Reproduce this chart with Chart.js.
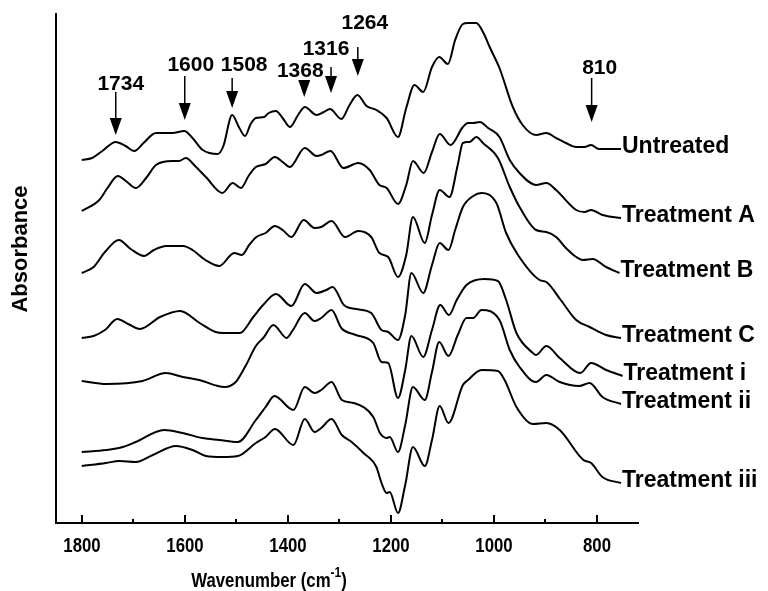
<!DOCTYPE html>
<html>
<head>
<meta charset="utf-8">
<script src="https://cdn.jsdelivr.net/npm/chart.js@4.4.1/dist/chart.umd.min.js"></script>
<style>
  html, body { margin: 0; padding: 0; background: #fff; }
  #wrap { width: 768px; height: 591px; position: relative; }
</style>
</head>
<body>
<div id="wrap"><canvas id="ftir"></canvas></div>
<script>
// [wavenumber, absorbance] pairs, absorbance in stacked arbitrary units
const untreated = [[1800,363],[1780,365],[1760,372],[1734,381],[1715,377],[1698,372],[1680,380],[1656,390],[1624,390],[1601,392],[1585,385],[1565,373],[1536,369],[1525,377],[1508,408],[1494,395],[1483,387],[1472,399],[1462,405],[1446,406],[1437,410],[1423,412],[1410,405],[1396,396],[1380,408],[1367,416],[1344,408],[1330,411],[1318,414],[1296,404],[1280,418],[1265,428],[1247,417],[1228,413],[1208,405],[1186,386],[1170,415],[1154,438],[1137,431],[1120,456],[1106,466],[1089,459],[1075,483],[1060,499],[1050,500],[1034,500],[1020,490],[1008,476],[989,455],[963,416],[944,398],[918,388],[898,390],[879,385],[860,380],[840,376],[824,376],[811,378],[796,374],[770,374],[753,374]];
const treatA = [[1800,312],[1766,323],[1750,335],[1730,347],[1712,341],[1695,335],[1675,345],[1656,358],[1624,362],[1611,362],[1598,365],[1580,357],[1559,346],[1527,330],[1507,340],[1491,335],[1475,348],[1462,356],[1443,359],[1425,366],[1410,361],[1396,356],[1367,375],[1344,367],[1335,368],[1317,372],[1292,355],[1263,360],[1241,353],[1222,338],[1208,335],[1186,319],[1170,338],[1157,362],[1136,350],[1120,371],[1105,389],[1084,378],[1060,396],[1050,400],[1040,400],[1027,401],[1011,395],[989,386],[969,363],[950,350],[918,338],[898,340],[879,333],[840,313],[824,311],[811,313],[789,308],[753,305]];
const treatB = [[1800,250],[1777,256],[1755,271],[1728,283],[1705,274],[1679,267],[1660,273],[1636,277],[1603,277],[1585,273],[1560,263],[1533,257],[1504,270],[1489,268],[1475,278],[1461,286],[1443,290],[1425,297],[1410,293],[1393,286],[1369,303],[1348,295],[1335,296],[1315,302],[1289,286],[1263,292],[1238,286],[1222,270],[1205,266],[1186,246],[1170,268],[1157,306],[1134,280],[1120,308],[1105,333],[1086,326],[1070,358],[1060,380],[1047,381],[1034,386],[1021,380],[992,365],[969,336],[950,316],[918,293],[898,291],[879,286],[860,275],[840,266],[827,263],[808,264],[782,256],[756,250]];
const treatC = [[1800,185],[1777,187],[1755,193],[1731,204],[1710,199],[1687,194],[1648,206],[1609,212],[1571,200],[1540,191],[1525,190],[1493,190],[1467,206],[1448,218],[1423,229],[1393,217],[1367,239],[1344,230],[1325,233],[1313,236],[1291,218],[1268,214],[1238,210],[1218,193],[1205,191],[1186,183],[1172,208],[1160,250],[1137,230],[1120,258],[1105,280],[1088,273],[1075,293],[1060,316],[1040,327],[1024,330],[995,320],[976,290],[953,268],[911,243],[898,241],[870,223],[840,203],[814,196],[782,188],[753,185]];
const treatI = [[1800,142],[1752,139],[1682,142],[1637,150],[1604,146],[1572,143],[1523,136],[1501,141],[1481,158],[1462,177],[1446,186],[1428,198],[1402,185],[1390,193],[1367,210],[1348,202],[1335,205],[1315,213],[1296,195],[1268,188],[1234,180],[1218,161],[1205,160],[1186,125],[1172,153],[1160,187],[1137,166],[1120,193],[1104,218],[1087,208],[1072,223],[1053,238],[1018,244],[992,242],[976,223],[956,190],[924,170],[918,168],[898,177],[872,165],[832,150],[811,160],[782,153],[750,147]];
const treatII = [[1800,71],[1752,73],[1720,76],[1695,81],[1640,93],[1604,90],[1566,85],[1533,83],[1497,81],[1462,103],[1443,116],[1426,127],[1389,113],[1367,136],[1348,130],[1335,133],[1315,141],[1295,123],[1272,120],[1234,106],[1221,90],[1208,85],[1202,86],[1186,71],[1172,98],[1157,136],[1134,123],[1120,151],[1106,181],[1088,167],[1070,188],[1053,205],[1040,205],[1024,213],[989,203],[969,173],[950,156],[918,141],[898,148],[872,141],[834,137],[814,140],[789,126],[753,119]];
const treatIII = [[1800,57],[1753,60],[1727,62],[1695,61],[1662,68],[1617,77],[1585,73],[1559,67],[1527,66],[1497,67],[1462,80],[1443,86],[1425,94],[1389,78],[1367,104],[1348,91],[1335,95],[1315,104],[1295,88],[1276,81],[1253,70],[1228,56],[1218,40],[1208,30],[1202,31],[1186,10],[1172,38],[1157,76],[1134,57],[1120,83],[1105,117],[1088,100],[1060,138],[1050,143],[1024,153],[992,152],[979,143],[956,116],[924,99],[898,100],[872,93],[826,63],[811,60],[789,46],[753,40]];

const seriesNames = ["Untreated", "Treatment A", "Treatment B", "Treatment C", "Treatment i", "Treatment ii", "Treatment iii"];
const xTicks = [1800, 1600, 1400, 1200, 1000, 800];
const minorTicks = [1700, 1500, 1300, 1100, 900];
const peakMarks = [1734, 1600, 1508, 1368, 1316, 1264, 810];

// arrow layout: tail/tip in y units, label offset in px
const arrowTail = [431, 447, 445, 443, 456, 476, 445];
const arrowTip = [388, 403, 415, 426, 430, 447, 401];
const labelDx = [5, 6, 12, -4, -5, 7, 8];
const labelY = [439, 458, 458, 452, 474, 500, 455];

const seriesData = [untreated, treatA, treatB, treatC, treatI, treatII, treatIII];

const boldFont = '"Liberation Sans", Arial, sans-serif';

// draws text squeezed horizontally (the axis text is a condensed face)
function narrowText(ctx, text, x, y, size, squeeze) {
    ctx.save();
    ctx.font = 'bold ' + size + 'px ' + boldFont;
    ctx.translate(x, y);
    ctx.scale(squeeze, 1);
    ctx.fillText(text, 0, 0);
    ctx.restore();
}

/* curve end labels */
const seriesLabels = {
    id: 'seriesLabels',
    afterDatasetsDraw(chart) {
        const ctx = chart.ctx;
        ctx.save();
        ctx.font = 'bold 23px ' + boldFont;
        ctx.fillStyle = '#000';
        ctx.textBaseline = 'middle';
        ctx.textAlign = 'left';
        chart.data.datasets.forEach((ds, i) => {
            const pts = chart.getDatasetMeta(i).data;
            const last = pts[pts.length - 1];
            ctx.fillText(ds.label, last.x + 1, last.y - 2);
        });
        ctx.restore();
    }
};

/* peak arrows + inward ticks + axis text */
const decorations = {
    id: 'decorations',
    afterDraw(chart) {
        const ctx = chart.ctx;
        const xs = chart.scales.x, ys = chart.scales.y;
        const area = chart.chartArea;
        ctx.save();
        ctx.strokeStyle = '#000';
        ctx.fillStyle = '#000';

        // inward tick marks + labels
        ctx.lineWidth = 2;
        ctx.textAlign = 'center';
        ctx.textBaseline = 'alphabetic';
        xTicks.forEach(v => {
            const px = Math.round(xs.getPixelForValue(v));
            ctx.beginPath();
            ctx.moveTo(px, area.bottom);
            ctx.lineTo(px, area.bottom - 8);
            ctx.stroke();
            narrowText(ctx, String(v), px, area.bottom + 29, 21, 0.8);
        });
        minorTicks.forEach(v => {
            const px = Math.round(xs.getPixelForValue(v));
            ctx.beginPath();
            ctx.moveTo(px, area.bottom);
            ctx.lineTo(px, area.bottom - 4);
            ctx.stroke();
        });

        // arrows
        ctx.font = 'bold 21px ' + boldFont;
        ctx.textAlign = 'center';
        ctx.textBaseline = 'middle';
        peakMarks.forEach((wn, i) => {
            const px = xs.getPixelForValue(wn);
            const y0 = ys.getPixelForValue(arrowTail[i]);
            const y1 = ys.getPixelForValue(arrowTip[i]);
            ctx.lineWidth = 1.5;
            ctx.beginPath();
            ctx.moveTo(px, y0);
            ctx.lineTo(px, y1 - 14);
            ctx.stroke();
            ctx.beginPath();
            ctx.moveTo(px - 6, y1 - 17);
            ctx.lineTo(px + 6, y1 - 17);
            ctx.lineTo(px, y1);
            ctx.closePath();
            ctx.fill();
            ctx.fillText(String(wn), px + labelDx[i], ys.getPixelForValue(labelY[i]));
        });

        // y title
        ctx.save();
        ctx.font = 'bold 22px ' + boldFont;
        ctx.translate(21, 249);
        ctx.rotate(-Math.PI / 2);
        ctx.fillText('Absorbance', 0, 0);
        ctx.restore();

        // x title with superscript
        const sq = 0.8;
        const main = 'Wavenumber (cm';
        ctx.textAlign = 'left';
        ctx.textBaseline = 'alphabetic';
        ctx.font = 'bold 21px ' + boldFont;
        const w1 = ctx.measureText(main).width * sq;
        const w3 = ctx.measureText(')').width * sq;
        ctx.font = 'bold 15px ' + boldFont;
        const w2 = ctx.measureText('-1').width * sq;
        let x = 269 - (w1 + w2 + w3) / 2;
        narrowText(ctx, main, x, 587, 21, sq);
        x += w1;
        narrowText(ctx, '-1', x, 577, 15, sq);
        x += w2;
        narrowText(ctx, ')', x, 587, 21, sq);
        ctx.restore();
    }
};

new Chart(document.getElementById('ftir'), {
    type: 'line',
    data: {
        datasets: seriesData.map((pts, i) => ({
            label: seriesNames[i],
            data: pts.map(p => ({ x: p[0], y: p[1] })),
            borderColor: '#000',
            borderWidth: 2,
            pointRadius: 0,
            fill: false,
            cubicInterpolationMode: 'monotone'
        }))
    },
    options: {
        responsive: true,
        maintainAspectRatio: false,
        animation: false,
        layout: { padding: { top: 14, right: 130, left: 0, bottom: 0 } },
        plugins: { legend: { display: false }, tooltip: { enabled: false } },
        scales: {
            x: {
                type: 'linear',
                reverse: true,
                min: 720,
                max: 1850,
                afterBuildTicks: s => { s.ticks = xTicks.map(v => ({ value: v })); },
                afterFit: s => { s.height = 68; },
                ticks: { display: false },
                grid: { display: false, drawTicks: false },
                border: { display: true, color: '#000', width: 2 }
            },
            y: {
                min: 0,
                max: 509,
                afterFit: s => { s.width = 56; },
                ticks: { display: false },
                grid: { display: false, drawTicks: false },
                border: { display: true, color: '#000', width: 2 }
            }
        }
    },
    plugins: [seriesLabels, decorations]
});
</script>
</body>
</html>
